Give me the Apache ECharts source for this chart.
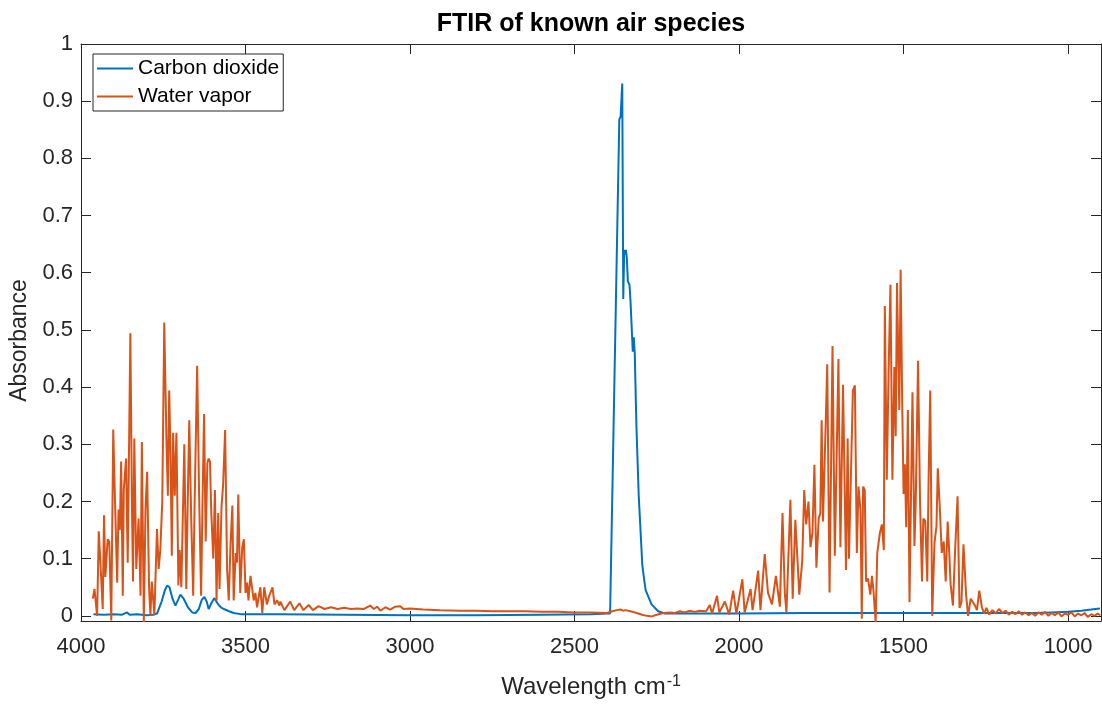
<!DOCTYPE html>
<html>
<head>
<meta charset="utf-8">
<script src="https://cdn.jsdelivr.net/npm/echarts@6/dist/echarts.min.js"></script>
<style>
html,body{margin:0;padding:0;background:#fff;}
#chart{width:1102px;height:706px;}
</style>
</head>
<body>
<div id="chart"></div>
<script>
// ---- data ----
const chartTitle = 'FTIR of known air species';
const seriesNames = ['Carbon dioxide', 'Water vapor'];
const xTickValues = [4000, 3500, 3000, 2500, 2000, 1500, 1000];
const yTickValues = [0, 0.1, 0.2, 0.3, 0.4, 0.5, 0.6, 0.7, 0.8, 0.9, 1];

const co2Wavenumber = [3962, 3930, 3900, 3875, 3860, 3852, 3830, 3800, 3780, 3769, 3755, 3745, 3738, 3731, 3722, 3713, 3705, 3698, 3688, 3675, 3662, 3652, 3642, 3633, 3625, 3618, 3612, 3604, 3595, 3585, 3575, 3566, 3550, 3536, 3515, 3490, 3400, 3200, 3000, 2800, 2600, 2450, 2400, 2392, 2364, 2360, 2355, 2352, 2349, 2346, 2344, 2341, 2338, 2335, 2333, 2330, 2326, 2323, 2320, 2317, 2312, 2305, 2294, 2284, 2266, 2246, 2226, 2200, 2000, 1800, 1600, 1400, 1200, 1100, 1050, 1000, 960, 930, 903];
const co2Absorbance = [0.003, 0.002, 0.003, 0.002, 0.006, 0.002, 0.003, 0.001, 0.002, 0.004, 0.025, 0.045, 0.053, 0.05, 0.03, 0.018, 0.028, 0.037, 0.03, 0.015, 0.006, 0.005, 0.012, 0.028, 0.033, 0.025, 0.012, 0.022, 0.031, 0.022, 0.015, 0.012, 0.008, 0.005, 0.003, 0.003, 0.003, 0.002, 0.001, 0.001, 0.002, 0.003, 0.004, 0.004, 0.868, 0.873, 0.931, 0.554, 0.64, 0.632, 0.64, 0.625, 0.585, 0.588, 0.579, 0.551, 0.548, 0.462, 0.487, 0.459, 0.333, 0.211, 0.088, 0.045, 0.02, 0.008, 0.004, 0.004, 0.004, 0.005, 0.005, 0.005, 0.005, 0.005, 0.006, 0.007, 0.009, 0.011, 0.013];

const waterWavenumber = [3964, 3959, 3951, 3946, 3939, 3934, 3930, 3926, 3919, 3914, 3908, 3902, 3896, 3890, 3886, 3882, 3878, 3873, 3870, 3867, 3863, 3858, 3850, 3845, 3842, 3838, 3832, 3825, 3819, 3815, 3809, 3804, 3799, 3793, 3789, 3785, 3781, 3777, 3769, 3764, 3759, 3753, 3747, 3740, 3736, 3732, 3728, 3724, 3720, 3715, 3710, 3704, 3700, 3695, 3686, 3680, 3676, 3671, 3665, 3659, 3655, 3647, 3641, 3635, 3631, 3626, 3621, 3616, 3612, 3608, 3604, 3598, 3593, 3588, 3583, 3579, 3573, 3568, 3562, 3556, 3551, 3546, 3540, 3536, 3530, 3526, 3522, 3516, 3510, 3505, 3500, 3495, 3491, 3485, 3480, 3475, 3470, 3465, 3455, 3449, 3443, 3435, 3428, 3418, 3412, 3404, 3397, 3394, 3382, 3364, 3352, 3336, 3324, 3308, 3295, 3278, 3260, 3240, 3220, 3200, 3180, 3160, 3140, 3121, 3110, 3100, 3090, 3075, 3060, 3045, 3030, 3020, 3000, 2960, 2909, 2850, 2800, 2750, 2706, 2650, 2600, 2550, 2504, 2450, 2402, 2385, 2372, 2360, 2353, 2345, 2330, 2311, 2295, 2280, 2265, 2250, 2230, 2210, 2195, 2180, 2165, 2150, 2135, 2120, 2100, 2089, 2082, 2067, 2060, 2043, 2030, 2018, 2008, 1990, 1983, 1965, 1959, 1942, 1935, 1922, 1912, 1900, 1888, 1876, 1868, 1861, 1856, 1844, 1837, 1829, 1822, 1817, 1808, 1802, 1796, 1789, 1783, 1777, 1771, 1765, 1758, 1753, 1749, 1745, 1737, 1732, 1725, 1716, 1709, 1698, 1692, 1684, 1675, 1670, 1666, 1660, 1654, 1648, 1642, 1637, 1631, 1627, 1623, 1618, 1614, 1608, 1601, 1596, 1591, 1585, 1580, 1572, 1566, 1560, 1557, 1551, 1546, 1540, 1534, 1528, 1524, 1520, 1513, 1509, 1504, 1500, 1496, 1492, 1487, 1482, 1473, 1467, 1463, 1456, 1450, 1444, 1440, 1434, 1428, 1424, 1419, 1413, 1406, 1400, 1396, 1390, 1384, 1378, 1372, 1366, 1362, 1357, 1350, 1343, 1336, 1330, 1324, 1318, 1310, 1304, 1296, 1290, 1283, 1277, 1270, 1262, 1255, 1248, 1240, 1230, 1220, 1210, 1200, 1190, 1180, 1170, 1160, 1150, 1140, 1130, 1120, 1110, 1100, 1090, 1080, 1070, 1060, 1050, 1040, 1030, 1020, 1010, 1000, 990, 980, 970, 960, 950, 940, 930, 920, 910, 902];
const waterAbsorbance = [0.03, 0.047, 0.0, 0.148, 0.07, 0.012, 0.176, 0.068, 0.134, 0.13, -0.008, 0.326, 0.186, 0.058, 0.186, 0.15, 0.27, 0.035, 0.22, 0.22, 0.275, 0.093, 0.494, 0.186, 0.06, 0.31, 0.082, 0.17, 0.035, 0.304, -0.011, 0.186, 0.252, 0.047, 0.0, 0.06, 0.06, 0.002, 0.152, 0.082, 0.115, 0.2, 0.513, 0.3, 0.21, 0.394, 0.29, 0.105, 0.32, 0.21, 0.32, 0.053, 0.115, 0.05, 0.3, 0.047, 0.186, 0.342, 0.17, 0.035, 0.186, 0.4375, 0.21, 0.035, 0.186, 0.353, 0.13, 0.267, 0.275, 0.27, 0.18, 0.1, 0.22, 0.027, 0.18, 0.047, 0.19, 0.23, 0.325, 0.082, 0.027, 0.118, 0.193, 0.027, 0.11, 0.093, 0.212, 0.04, 0.12, 0.134, 0.04, 0.058, 0.027, 0.07, 0.072, 0.027, 0.04, 0.015, 0.05, 0.005, 0.05, 0.02, 0.035, 0.05, 0.02, 0.027, 0.018, 0.025, 0.01, 0.025, 0.01, 0.022, 0.01, 0.019, 0.01, 0.017, 0.012, 0.015, 0.012, 0.014, 0.012, 0.013, 0.012, 0.018, 0.012, 0.016, 0.009, 0.015, 0.011, 0.016, 0.017, 0.012, 0.013, 0.011, 0.01, 0.009, 0.009, 0.008, 0.008, 0.008, 0.007, 0.007, 0.006, 0.006, 0.005, 0.008, 0.01, 0.011, 0.009, 0.01, 0.008, 0.005, 0.002, 0.0, -0.001, 0.002, 0.005, 0.006, 0.005, 0.008, 0.006, 0.009, 0.007, 0.009, 0.008, 0.019, 0.004, 0.035, 0.006, 0.025, 0.002, 0.044, 0.004, 0.064, 0.006, 0.047, 0.01, 0.079, 0.01, 0.108, 0.04, 0.02, 0.07, 0.016, 0.18, 0.04, 0.006, 0.203, 0.03, 0.168, 0.093, 0.037, 0.096, 0.22, 0.16, 0.2, 0.12, 0.145, 0.264, 0.084, 0.17, 0.18, 0.342, 0.165, 0.33, 0.44, 0.041, 0.472, 0.105, 0.449, 0.12, 0.404, 0.08, 0.31, 0.1, 0.1, 0.394, 0.403, 0.11, 0.226, 0.185, -0.005, 0.226, 0.22, 0.06, 0.065, 0.037, 0.07, 0.04, -0.011, 0.11, 0.145, 0.16, 0.115, 0.542, 0.238, 0.412, 0.579, 0.238, 0.435, 0.314, 0.582, 0.36, 0.605, 0.365, 0.213, 0.265, 0.155, 0.36, 0.024, 0.391, 0.122, 0.2, 0.446, 0.2, 0.06, 0.17, 0.166, 0.06, 0.238, 0.394, 0.0, 0.128, 0.157, 0.258, 0.19, 0.11, 0.13, 0.06, 0.165, 0.12, 0.055, 0.018, 0.12, 0.209, 0.014, 0.024, 0.125, 0.037, 0.0, 0.03, 0.032, 0.018, 0.01, 0.044, 0.015, 0.004, 0.014, 0.002, 0.01, 0.004, 0.012, 0.005, 0.009, 0.002, 0.007, 0.003, 0.008, 0.002, 0.006, 0.001, 0.005, 0.0, 0.006, 0.002, 0.007, 0.0, 0.005, 0.001, 0.006, -0.001, 0.004, 0.002, 0.006, -0.001, 0.004, 0.001, 0.005, -0.002, 0.003, 0.0, 0.004, 0.001];

// ---- build ----
const zip = (xs, ys) => xs.map((x, i) => [x, ys[i]]);
const axisColor = '#262626';
const fontFamily = '"Liberation Sans", Arial, sans-serif';
const xRange = { min: 900, max: 4000 };
const yRange = { min: -0.009, max: 1 };

const chart = echarts.init(document.getElementById('chart'), null, { renderer: 'canvas' });

function xAxisDef(pos, showLabels) {
  return {
    type: 'value', position: pos, inverse: true, min: xRange.min, max: xRange.max,
    axisLine: { show: true, onZero: false, lineStyle: { color: axisColor, width: 1 } },
    axisTick: { show: true, inside: true, length: 10, customValues: xTickValues, lineStyle: { color: axisColor } },
    axisLabel: { show: showLabels, customValues: xTickValues, color: axisColor, fontSize: 22, fontFamily, margin: 15,
      formatter: v => String(Math.round(+v)) },
    splitLine: { show: false }
  };
}
function yAxisDef(pos, showLabels) {
  return {
    type: 'value', position: pos, min: yRange.min, max: yRange.max,
    axisLine: { show: true, onZero: false, lineStyle: { color: axisColor, width: 1 } },
    axisTick: { show: true, inside: true, length: 10, customValues: yTickValues, lineStyle: { color: axisColor } },
    axisLabel: { show: showLabels, customValues: yTickValues, color: axisColor, fontSize: 22, fontFamily, margin: 8,
      formatter: v => String(+(+v).toFixed(2)) },
    splitLine: { show: false }
  };
}

const xMain = xAxisDef('bottom', true);
xMain.name = 'Wavelength cm{sup|-1}';
xMain.nameLocation = 'middle';
xMain.nameGap = 53;
xMain.nameTextStyle = { color: axisColor, fontSize: 24, fontFamily, lineHeight: 27,
  rich: { sup: { fontSize: 16, fontFamily, color: axisColor, verticalAlign: 'top', lineHeight: 27, padding: [0, 0, 0, 1] } } };
const xTop = xAxisDef('top', false);

const yMain = yAxisDef('left', true);
yMain.name = 'Absorbance';
yMain.nameLocation = 'middle';
yMain.nameGap = 44;
yMain.nameTextStyle = { color: axisColor, fontSize: 23, fontFamily, padding: [0, 16, 0, 0] };
const yRight = yAxisDef('right', false);

chart.setOption({
  animation: false,
  backgroundColor: '#ffffff',
  title: {
    text: chartTitle, left: 591, top: 12, textAlign: 'center', padding: 0,
    textStyle: { fontSize: 25, fontWeight: 'bold', color: '#000', fontFamily }
  },
  legend: {
    orient: 'vertical', left: 93, top: 54, padding: [4, 4, 4, 4], itemGap: 7,
    itemWidth: 36, itemHeight: 2, icon: 'rect',
    backgroundColor: '#fff', borderColor: axisColor, borderWidth: 1, borderRadius: 0,
    textStyle: { fontSize: 21, color: '#000', fontFamily },
    data: seriesNames
  },
  grid: { left: 81, right: 1, top: 44, bottom: 81, containLabel: false },
  xAxis: [xMain, xTop],
  yAxis: [yMain, yRight],
  series: [
    { name: seriesNames[0], type: 'line', xAxisIndex: 0, yAxisIndex: 0, showSymbol: false, symbol: 'none',
      color: '#0072BD', lineStyle: { width: 2, color: '#0072BD' }, data: zip(co2Wavenumber, co2Absorbance), clip: true },
    { name: seriesNames[1], type: 'line', xAxisIndex: 0, yAxisIndex: 0, showSymbol: false, symbol: 'none',
      color: '#D95319', lineStyle: { width: 2, color: '#D95319' }, data: zip(waterWavenumber, waterAbsorbance), clip: true }
  ]
});
</script>
</body>
</html>
